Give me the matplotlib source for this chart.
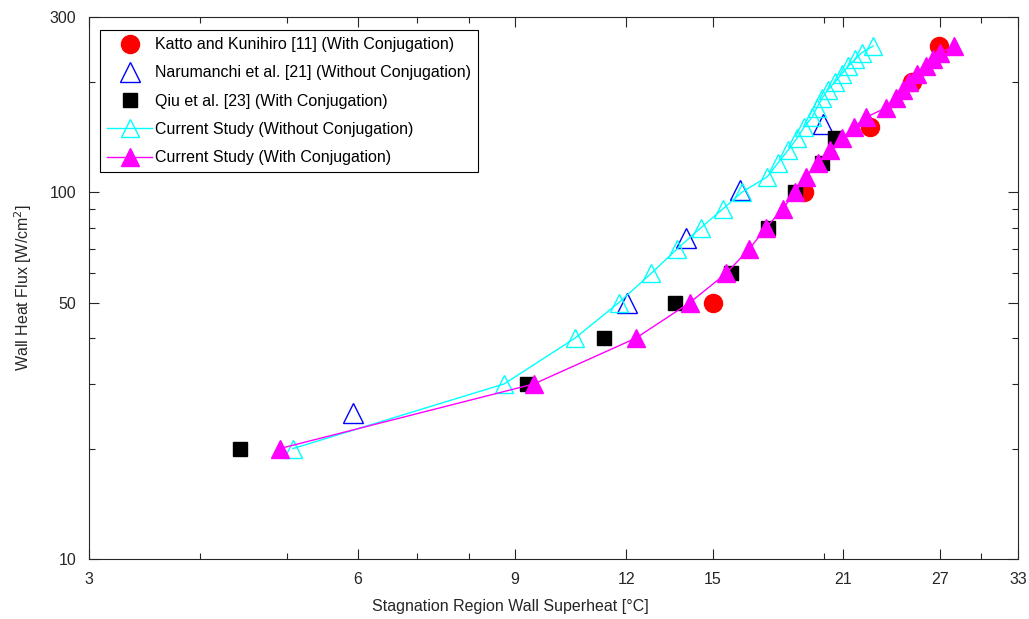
import matplotlib
matplotlib.use("Agg")
import matplotlib.pyplot as plt
from matplotlib.ticker import FixedLocator, FixedFormatter, LogLocator, NullFormatter

plt.rcParams['font.family'] = ['Liberation Sans', 'DejaVu Sans']

# ---- data ----
katto_x = [15.0, 19.0, 22.5, 25.1, 26.9]
katto_y = [50, 100, 150, 200, 250]

naru_x = [5.93, 12.03, 14.0, 16.1, 19.95]
naru_y = [25, 50, 75, 101, 153]

qiu_x = [4.43, 9.3, 11.33, 13.6, 15.73, 17.3, 18.56, 19.9, 20.6]
qiu_y = [20, 30, 40, 50, 60, 80, 100, 120, 140]

cur_y = [20, 30, 40, 50, 60, 70, 80, 90, 100, 110, 120, 130, 140, 150,
         160, 170, 180, 190, 200, 210, 220, 230, 240, 250]
cur_wo_x = [5.08, 8.76, 10.52, 11.78, 12.8, 13.69, 14.56, 15.41, 16.19, 17.27,
            17.76, 18.23, 18.65, 18.99, 19.39, 19.64, 19.9, 20.2, 20.6, 20.95,
            21.28, 21.67, 22.06, 22.7]
cur_w_x = [4.91, 9.46, 12.31, 14.15, 15.53, 16.5, 17.22, 17.99, 18.56, 19.09,
           19.69, 20.3, 20.95, 21.6, 22.3, 23.5, 24.1, 24.5, 24.9, 25.4,
           26.0, 26.5, 27.0, 28.0]

x_ticks = [3, 6, 9, 12, 15, 21, 27, 33]
y_ticks = [10, 50, 100, 300]

labels = ["Katto and Kunihiro [11] (With Conjugation)",
          "Narumanchi et al. [21] (Without Conjugation)",
          "Qiu et al. [23] (With Conjugation)",
          "Current Study (Without Conjugation)",
          "Current Study (With Conjugation)"]

# ---- figure ----
fig = plt.figure(figsize=(10.29, 6.19), dpi=100)
ax = fig.add_axes([89/1029, 1 - 559/619, (1018-89)/1029, (559-17)/619])

ax.plot(katto_x, katto_y, linestyle='none', marker='o', ms=13,
        mfc='#FF0000', mec='#FF0000', label=labels[0])
ax.plot(naru_x, naru_y, linestyle='none', marker='^', ms=14,
        mfc='none', mec='#0000FF', mew=1.0, label=labels[1])
ax.plot(qiu_x, qiu_y, linestyle='none', marker='s', ms=10.5,
        mfc='black', mec='black', label=labels[2])
ax.plot(cur_wo_x, cur_y, color='#00FFFF', lw=1.0, marker='^', ms=12.5,
        mfc='none', mec='#00FFFF', mew=1.0, label=labels[3])
ax.plot(cur_w_x, cur_y, color='#FF00FF', lw=1.0, marker='^', ms=13,
        mfc='#FF00FF', mec='#FF00FF', label=labels[4])

ax.set_xscale('log')
ax.set_yscale('log')
ax.set_xlim(3, 33)
ax.set_ylim(10, 300)

ax.xaxis.set_major_locator(FixedLocator(x_ticks))
ax.xaxis.set_major_formatter(FixedFormatter([str(t) for t in x_ticks]))
ax.xaxis.set_minor_locator(LogLocator(base=10, subs=range(2, 10)))
ax.xaxis.set_minor_formatter(NullFormatter())
ax.yaxis.set_major_locator(FixedLocator(y_ticks))
ax.yaxis.set_major_formatter(FixedFormatter([str(t) for t in y_ticks]))
ax.yaxis.set_minor_locator(LogLocator(base=10, subs=range(2, 10)))
ax.yaxis.set_minor_formatter(NullFormatter())

tick_color = '#262626'
ax.tick_params(which='both', direction='in', top=True, right=True,
               colors=tick_color, labelsize=11.5, width=0.8)
ax.tick_params(which='major', length=7.5)
ax.tick_params(which='minor', length=4)
ax.tick_params(axis='x', which='major', pad=9)
ax.tick_params(axis='y', which='major', pad=9)
for s in ax.spines.values():
    s.set_color(tick_color)
    s.set_linewidth(0.8)

ax.set_xlabel("Stagnation Region Wall Superheat [°C]", fontsize=11.5,
              color=tick_color)
ax.xaxis.set_label_coords((510-89)/929, -(599-559)/542)
ax.set_ylabel("Wall Heat Flux [W/cm$^2$]", fontsize=11.5, color=tick_color)
ax.yaxis.set_label_coords(-(89-34)/929, 0.5)

leg = ax.legend(loc='upper left', bbox_to_anchor=((100-89)/929, (559-30)/542),
                fontsize=11.5, frameon=True, fancybox=False, edgecolor='black',
                framealpha=1, handlelength=2.8, handletextpad=0.2,
                labelspacing=0.83, borderpad=0.45, borderaxespad=0,
                numpoints=1)
leg.get_frame().set_linewidth(0.8)

fig.savefig("out.png", dpi=100)
